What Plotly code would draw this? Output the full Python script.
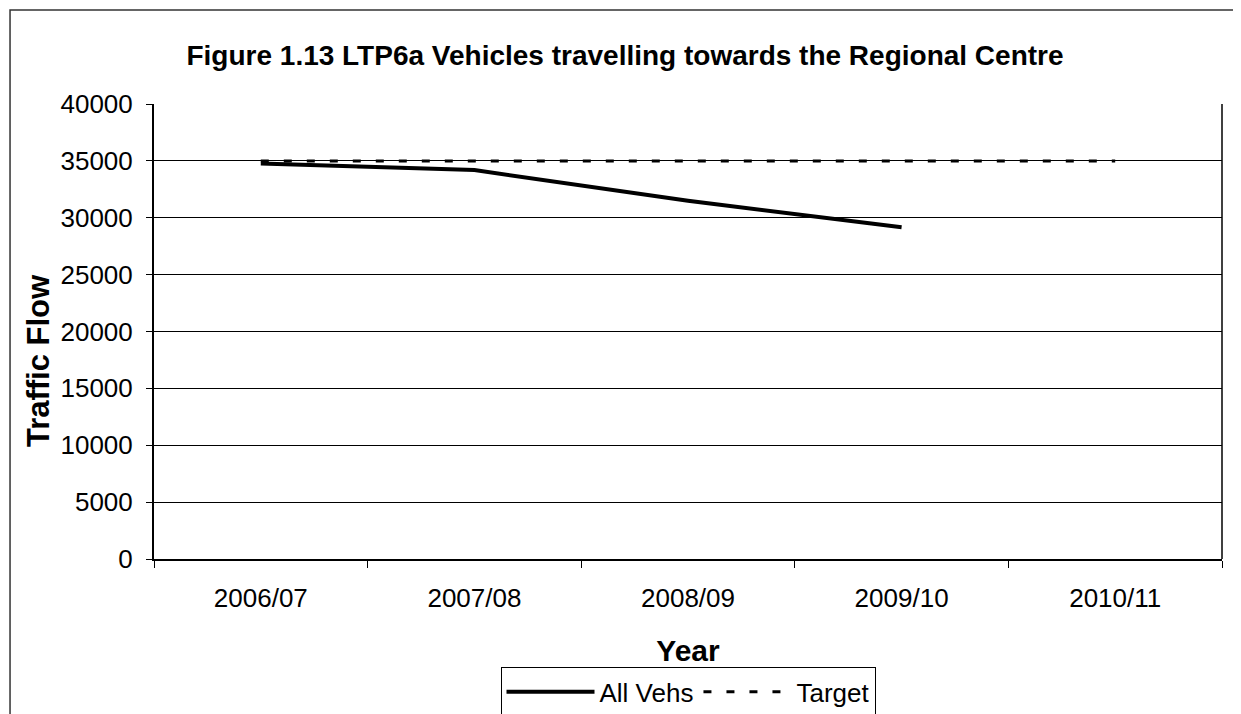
import plotly.graph_objects as go

# データ
years = ["2006/07", "2007/08", "2008/09", "2009/10", "2010/11"]
all_vehs = [34780, 34190, 31500, 29160, None]
target = [35000, 35000, 35000, 35000, 35000]

fig = go.Figure()

fig.add_trace(go.Scatter(
    x=years, y=all_vehs, mode="lines", name="All Vehs",
    line=dict(color="black", width=4),
))
fig.add_trace(go.Scatter(
    x=years, y=target, mode="lines", name="Target",
    line=dict(color="black", width=3, dash="8px,15px"),
))

# 外枠
fig.add_shape(type="rect", xref="paper", yref="paper",
              x0=-0.1348, x1=1.05, y0=-0.6, y1=1.2066,
              line=dict(color="#333333", width=1.5), layer="below")

# Y軸タイトル（少し下寄せ）
fig.add_annotation(text="<b>Traffic Flow</b>", xref="paper", yref="paper",
                   x=-0.1086, y=0.435, xanchor="center", yanchor="middle",
                   textangle=-90, showarrow=False, font=dict(size=31))

fig.update_layout(
    width=1225, height=706,
    margin=dict(l=146, r=11, t=96, b=155, autoexpand=False),
    paper_bgcolor="white", plot_bgcolor="white",
    font=dict(family="Liberation Sans, Arial", color="black", size=24),
    title=dict(text="<b>Figure 1.13 LTP6a Vehicles travelling towards the Regional Centre</b>",
               x=0.5037, xanchor="center", y=1 - 47 / 706, yanchor="middle",
               font=dict(size=28)),
    xaxis=dict(
        type="category", range=[-0.5, 4.5], tickson="boundaries",
        ticks="outside", ticklen=7, tickcolor="black",
        showline=True, linecolor="black", linewidth=1.5, showgrid=False,
        tickfont=dict(size=26), ticklabelstandoff=15,
        title=dict(text="<b>Year</b>", font=dict(size=30), standoff=28),
    ),
    yaxis=dict(
        range=[0, 40000], dtick=5000, tickformat="d",
        ticks="outside", ticklen=6, tickcolor="black",
        showline=True, linecolor="black", linewidth=2, mirror=False,
        showgrid=True, gridcolor="black", gridwidth=1,
        zeroline=False, tickfont=dict(size=26), ticklabelstandoff=8,
    ),
    legend=dict(orientation="h", x=0.5, xanchor="center", y=-0.238, yanchor="top",
                bordercolor="black", borderwidth=1, bgcolor="white",
                font=dict(size=26), itemwidth=88),
    showlegend=True,
)

# プロット枠右端
fig.add_shape(type="line", xref="paper", yref="paper", x0=1, x1=1, y0=0, y1=1,
              line=dict(color="black", width=1.5))

fig.write_html("out.html")
